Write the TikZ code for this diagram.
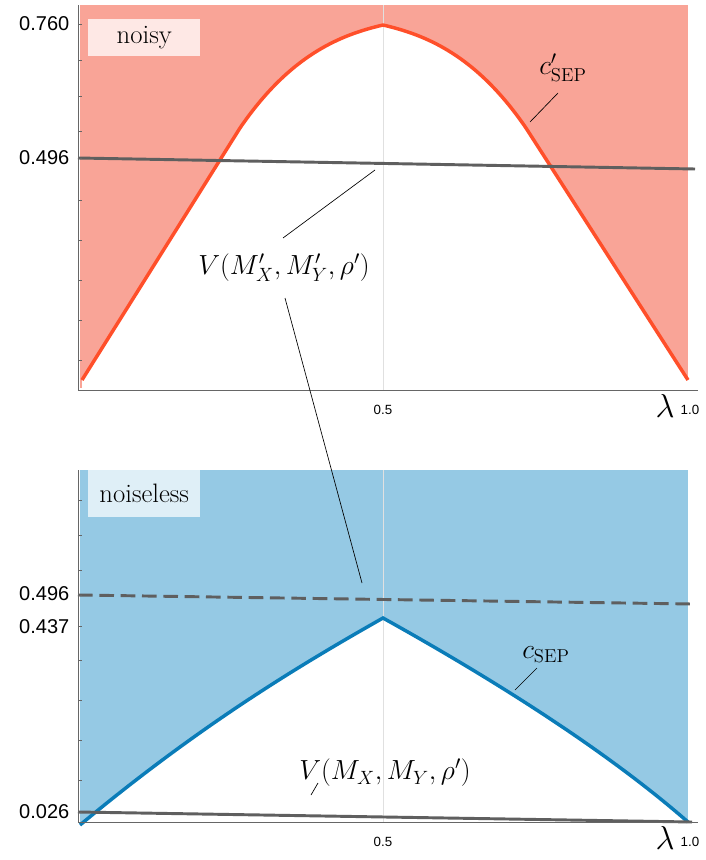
\documentclass[tikz,border=0pt]{standalone}
\usepackage{fontspec}
\newfontfamily\tick{Liberation Sans}
\begin{document}
\begin{tikzpicture}[x=0.75pt,y=-0.75pt,
  tk/.style={font=\tick\fontsize{15}{15}\selectfont},
  tks/.style={font=\tick\fontsize{10}{10}\selectfont},
  lab/.style={font=\fontsize{20}{20}\selectfont},
  lead/.style={draw=black,line width=0.5pt},
  grid/.style={draw=black!12,line width=0.6pt}]
\useasboundingbox (0,0) rectangle (706,860);
\definecolor{rfill}{HTML}{F9A497}\definecolor{rline}{HTML}{FF4F2A}
\definecolor{bfill}{HTML}{95C9E4}\definecolor{bline}{HTML}{0A7CB8}
\definecolor{gl}{HTML}{5F5F5F}
\def\topcurve{(82,380) -- (240,128) .. controls (290,55) and (340,35) .. (383,25) .. controls (426,35) and (476,55) .. (526,128) -- (688,380)}
% top
\fill[rfill] (80,5) rectangle (688,388);
\fill[white] \topcurve -- (688,388) -- (82,388) -- cycle;
\draw[grid] (383,5) -- (383,390);
\draw[rline,line width=2.6pt,line join=round] \topcurve;
\draw[gl,line width=2.2pt] (78,158) -- (695,169);
\draw[black!60,line width=0.6pt] (78,5) -- (78,390) -- (698,390);
\foreach \y in {24,60,96,131,158,200,240,280,320,360} \draw[black!60] (78,\y) -- (82,\y);
\node[tk,anchor=east] (t760) at (74,24) {0.760};
\node[tk,anchor=east] (t496a) at (74,158) {0.496};
\node[tks] (h05a) at (383,410) {0.5};
\node[tks] (h10a) at (690,410) {1.0};
\node[font=\fontsize{26}{26}\selectfont] (lama) at (665,406) {$\lambda$};
\node[fill=white!75!rfill,anchor=north west,minimum width=112*0.75pt,minimum height=37*0.75pt,lab,inner sep=2pt] (noisy) at (88,19) {noisy};
\node[lab] (cp) at (563,68) {$c'_{\mathrm{SEP}}$};
\coordinate (cpe) at (530,122);
\draw[lead] (558,93) -- (cpe);
\node[lab] (Vp) at (284,268) {$V(M'_X,M'_Y,\rho')$};
\coordinate (Vpa) at (375,170);
\coordinate (Vpb) at (362,583);
\draw[lead] (283,238) -- (Vpa);
% bottom
\fill[bfill] (80,470) rectangle (688,822);
\fill[white] (80,825) .. controls (200,725) and (300,665) .. (383,618) .. controls (480,672) and (600,745) .. (688,822) -- cycle;
\draw[grid] (383,470) -- (383,822);
\draw[bline,line width=2.6pt,line join=miter] (80,825) .. controls (200,725) and (300,665) .. (383,618) .. controls (480,672) and (600,745) .. (688,822);
\draw[gl,line width=2.2pt,dashed,dash pattern=on 11pt off 5pt] (78,595) -- (692,604);
\draw[gl,line width=2.2pt] (78,812) -- (692,822);
\draw[black!60,line width=0.6pt] (78,470) -- (78,822) -- (698,822);
\foreach \y in {500,535,570,595,626,660,700,740,780,812} \draw[black!60] (78,\y) -- (82,\y);
\node[tk,anchor=east] (t496b) at (74,594) {0.496};
\node[tk,anchor=east] (t437) at (74,627) {0.437};
\node[tk,anchor=east] (t026) at (74,812) {0.026};
\node[tks] (h05b) at (383,842) {0.5};
\node[tks] (h10b) at (690,842) {1.0};
\node[font=\fontsize{26}{26}\selectfont] (lamb) at (665,838) {$\lambda$};
\node[fill=white!70!bfill,anchor=north west,minimum width=112*0.75pt,minimum height=47*0.75pt,lab,inner sep=2pt] (nl) at (88,470) {noiseless};
\node[lab] (cs) at (546,655) {$c_{\mathrm{SEP}}$};
\coordinate (cse) at (515,690);
\draw[lead] (537,668) -- (cse);
\node[lab] (V) at (385,773) {$V(M_X,M_Y,\rho')$};
\coordinate (Ve) at (311,795);
\draw[lead] (318,783) -- (Ve);
\draw[lead] (285,298) -- (Vpb);
\end{tikzpicture}
\end{document}
